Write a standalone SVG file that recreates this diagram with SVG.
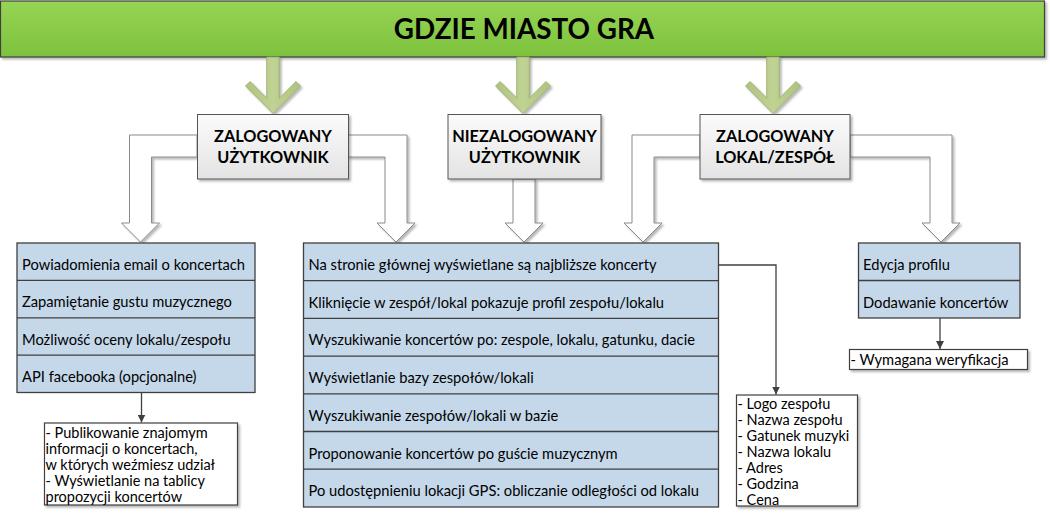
<svg xmlns="http://www.w3.org/2000/svg" width="1050" height="514" viewBox="0 0 1050 514">
<defs>
<linearGradient id="gTitle" x1="0" y1="0" x2="0" y2="1">
<stop offset="0" stop-color="#97d454"/><stop offset="1" stop-color="#7dc23e"/>
</linearGradient>
<linearGradient id="gBox" x1="0" y1="0" x2="0" y2="1">
<stop offset="0" stop-color="#fbfbfb"/><stop offset="1" stop-color="#e3e3e3"/>
</linearGradient>
<linearGradient id="gArrow" x1="0" y1="0" x2="1" y2="0">
<stop offset="0" stop-color="#afc37f"/><stop offset="0.5" stop-color="#c0d294"/><stop offset="1" stop-color="#afc37f"/>
</linearGradient>
<filter id="sh" x="-10%" y="-10%" width="130%" height="140%">
<feDropShadow dx="2" dy="2" stdDeviation="1.2" flood-color="#000" flood-opacity="0.28"/>
</filter>
<marker id="ah" viewBox="0 0 10 10" refX="10" refY="5" markerWidth="8" markerHeight="8" markerUnits="userSpaceOnUse" orient="auto">
<path d="M0,0 L10,5 L0,10 Z" fill="#404040"/>
</marker>
<style>
.t{font-family:Lato,"Liberation Sans",sans-serif;font-size:14.7px;fill:#000}
.n{font-family:Lato,"Liberation Sans",sans-serif;font-size:14.5px;fill:#000}
.b{font-family:Lato,"Liberation Sans",sans-serif;font-weight:bold;font-size:16.3px;fill:#000;text-anchor:middle}
.list{fill:#c5d8ea;stroke:#3f3f3f;stroke-width:1.3}
.sep{stroke:#3f3f3f;stroke-width:1.3}
.note{fill:#fff;stroke:#3f3f3f;stroke-width:1.2}
.lbl{fill:url(#gBox);stroke:#555;stroke-width:1}
.wa{fill:#fff;stroke:#8a8a8a;stroke-width:1}
.ga{fill:url(#gArrow);stroke:#94a666;stroke-width:0.8}
.con{fill:none;stroke:#404040;stroke-width:1.3}
</style>
</defs>

<g id="title">
<rect x="0.5" y="1" width="1044" height="56" fill="url(#gTitle)" stroke="#3f3f3f" stroke-width="1.2" filter="url(#sh)"/>
<text x="524" y="39" style="font-family:Lato,'Liberation Sans',sans-serif;font-weight:bold;font-size:27.8px;text-anchor:middle">GDZIE MIASTO GRA</text>
</g>

<g id="connectors">
<path class="ga" filter="url(#sh)" d="M266.7,57 V98.2 L250,81.5 L245.5,86 L273,113.5 L300.5,86 L296,81.5 L279.3,98.2 V57 Z"/>
<path class="ga" filter="url(#sh)" d="M516.7,57 V98.2 L500,81.5 L495.5,86 L523,113.5 L550.5,86 L546,81.5 L529.3,98.2 V57 Z"/>
<path class="ga" filter="url(#sh)" d="M766.7,57 V98.2 L750,81.5 L745.5,86 L773,113.5 L800.5,86 L796,81.5 L779.3,98.2 V57 Z"/>
<path class="wa" filter="url(#sh)" d="M197,135 H129.5 V223 H121.5 L140.5,242 L159.5,223 H151.5 V157 H197 Z"/>
<path class="wa" filter="url(#sh)" d="M348,135 H407 V223 H415 L396,242 L377,223 H385 V157 H348 Z"/>
<path class="wa" filter="url(#sh)" d="M513,179 V223 H505 L524,242 L543,223 H535 V179 Z"/>
<path class="wa" filter="url(#sh)" d="M700,135 H632 V223 H624 L643,242 L662,223 H654 V157 H700 Z"/>
<path class="wa" filter="url(#sh)" d="M850,135 H952 V223 H960 L941,242 L922,223 H930 V157 H850 Z"/>
<path class="con" d="M141.5,392.5 V422.5" marker-end="url(#ah)"/>
<path class="con" d="M718,265 H776 V394.5" marker-end="url(#ah)"/>
<path class="con" d="M940,318 V349" marker-end="url(#ah)"/>
</g>

<g id="zalogowany-uzytkownik">
<rect class="lbl" x="197.5" y="114.5" width="151" height="64.5" filter="url(#sh)"/>
<text class="b" x="273" y="141.5">ZALOGOWANY</text>
<text class="b" x="273" y="163">UŻYTKOWNIK</text>
</g>

<g id="niezalogowany-uzytkownik">
<rect class="lbl" x="448" y="114.5" width="153" height="64.5" filter="url(#sh)"/>
<text class="b" x="524.5" y="141.5">NIEZALOGOWANY</text>
<text class="b" x="524.5" y="163">UŻYTKOWNIK</text>
</g>

<g id="zalogowany-lokal">
<rect class="lbl" x="700" y="114.5" width="150" height="64.5" filter="url(#sh)"/>
<text class="b" x="775" y="141.5">ZALOGOWANY</text>
<text class="b" x="775" y="163">LOKAL/ZESPÓŁ</text>
</g>

<g id="lista-zalogowany">
<rect class="list" x="17" y="243" width="238" height="149.5"/>
<line class="sep" x1="17" y1="280.4" x2="255" y2="280.4"/>
<line class="sep" x1="17" y1="317.8" x2="255" y2="317.8"/>
<line class="sep" x1="17" y1="355.1" x2="255" y2="355.1"/>
<text class="t" x="22" y="270">Powiadomienia email o koncertach</text>
<text class="t" x="22" y="307.4">Zapamiętanie gustu muzycznego</text>
<text class="t" x="22" y="344.8">Możliwość oceny lokalu/zespołu</text>
<text class="t" x="22" y="382.1">API facebooka (opcjonalne)</text>
</g>

<g id="lista-wspolna">
<rect class="list" x="303.5" y="243" width="415" height="264"/>
<line class="sep" x1="303.5" y1="280.7" x2="718.5" y2="280.7"/>
<line class="sep" x1="303.5" y1="318.4" x2="718.5" y2="318.4"/>
<line class="sep" x1="303.5" y1="356.1" x2="718.5" y2="356.1"/>
<line class="sep" x1="303.5" y1="393.8" x2="718.5" y2="393.8"/>
<line class="sep" x1="303.5" y1="431.5" x2="718.5" y2="431.5"/>
<line class="sep" x1="303.5" y1="469.2" x2="718.5" y2="469.2"/>
<text class="t" x="308.5" y="270">Na stronie głównej wyświetlane są najbliższe koncerty</text>
<text class="t" x="308.5" y="307.7">Kliknięcie w zespół/lokal pokazuje profil zespołu/lokalu</text>
<text class="t" x="308.5" y="345.4">Wyszukiwanie koncertów po: zespole, lokalu, gatunku, dacie</text>
<text class="t" x="308.5" y="383.1">Wyświetlanie bazy zespołów/lokali</text>
<text class="t" x="308.5" y="420.8">Wyszukiwanie zespołów/lokali w bazie</text>
<text class="t" x="308.5" y="458.5">Proponowanie koncertów po guście muzycznym</text>
<text class="t" x="308.5" y="496.2">Po udostępnieniu lokacji GPS: obliczanie odległości od lokalu</text>
</g>

<g id="lista-lokal">
<rect class="list" x="858.5" y="243" width="161.5" height="75"/>
<line class="sep" x1="858.5" y1="280.5" x2="1020" y2="280.5"/>
<text class="t" x="863" y="270">Edycja profilu</text>
<text class="t" x="863" y="307.5">Dodawanie koncertów</text>
</g>

<g id="notka-facebook">
<rect class="note" x="44.5" y="423" width="193" height="82" filter="url(#sh)"/>
<text class="n" x="45.5" y="437.5">- Publikowanie znajomym</text>
<text class="n" x="45.5" y="453.5">informacji o koncertach,</text>
<text class="n" x="45.5" y="469.5">w których weźmiesz udział</text>
<text class="n" x="45.5" y="485.5">- Wyświetlanie na tablicy</text>
<text class="n" x="45.5" y="501.5">propozycji koncertów</text>
</g>

<g id="notka-koncert">
<rect class="note" x="736.5" y="395" width="121" height="111" filter="url(#sh)"/>
<text class="n" x="737.5" y="408.5">- Logo zespołu</text>
<text class="n" x="737.5" y="424.5">- Nazwa zespołu</text>
<text class="n" x="737.5" y="440.5">- Gatunek muzyki</text>
<text class="n" x="737.5" y="456.5">- Nazwa lokalu</text>
<text class="n" x="737.5" y="472.5">- Adres</text>
<text class="n" x="737.5" y="488.5">- Godzina</text>
<text class="n" x="737.5" y="504.5">- Cena</text>
</g>

<g id="notka-weryfikacja">
<rect class="note" x="849.5" y="349.5" width="178" height="20" filter="url(#sh)"/>
<text class="t" x="850.5" y="364.5">- Wymagana weryfikacja</text>
</g>
</svg>
